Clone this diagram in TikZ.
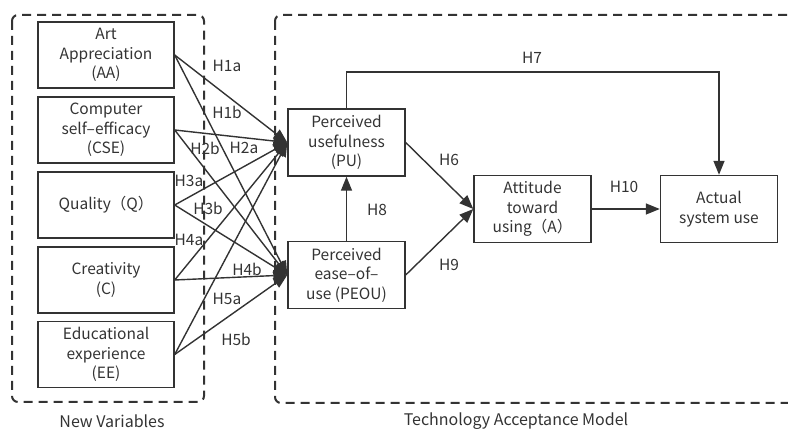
\documentclass[tikz,border=0pt]{standalone}
\usepackage{fontspec}
\setmainfont{Noto Sans CJK SC}
\usetikzlibrary{positioning,arrows.meta}

\begin{document}
\begin{tikzpicture}[x=1pt, y=-1pt, font=\fontsize{15.5}{19.5}\selectfont, color={black!80},
    var/.style={rectangle, draw, line width=1.4pt, align=center, minimum width=136pt, minimum height=66pt, inner sep=2pt},
    tam/.style={var, minimum width=117pt, minimum height=67pt},
    hyp/.style={inner sep=1pt},
    group/.style={draw, line width=2pt, dash pattern=on 9pt off 6pt, rounded corners=6pt},
    link/.style={line width=1.4pt, -{Triangle[length=14pt,width=11pt]}}]
    \useasboundingbox (0,0) rectangle (788,430);

    % dashed groups
    \draw[group] (12,15) rectangle (204,402);
    \draw[group] (275,15) rectangle (810,403);
    \node[font=\fontsize{16}{19}\selectfont] (newvar) at (112,421) {New Variables};
    \node[font=\fontsize{16}{19}\selectfont] (tamlabel) at (516,421) {Technology Acceptance Model};

    % new variables
    \node[var] (aa) at (106,55) {Art\\Appreciation\\(AA)};
    \node[var] (cse) at (106,130) {Computer\\self–efficacy\\(CSE)};
    \node[var] (q) at (106,205) {Quality（Q）};
    \node[var] (c) at (106,280) {Creativity\\(C)};
    \node[var] (ee) at (106,354.5) {Educational\\experience\\(EE)};

    % TAM
    \node[tam] (pu) at (346.5,142.5) {Perceived\\usefulness\\(PU)};
    \node[tam] (peou) at (346.5,275) {Perceived\\ease–of–\\use (PEOU)};
    \node[tam] (att) at (532.5,209) {Attitude\\toward\\using（A）};
    \node[tam] (asu) at (719,209) {Actual\\system use};

    \coordinate (top) at (532,72);

    \draw[link] (aa.east) -- (pu.west);
    \draw[link] (aa.east) -- (peou.west);
    \draw[link] (cse.east) -- (pu.west);
    \draw[link] (cse.east) -- (peou.west);
    \draw[link] (q.east) -- (pu.west);
    \draw[link] (q.east) -- (peou.west);
    \draw[link] (c.east) -- (pu.west);
    \draw[link] (c.east) -- (peou.west);
    \draw[link] (ee.east) -- (pu.west);
    \draw[link] (ee.east) -- (peou.west);

    \draw[link] (pu.east) -- (att.west);
    \draw[link] (peou.east) -- (att.west);
    \draw[link] (peou.north) -- (pu.south);
    \draw[link] (att.east) -- (asu.west);
    \draw[link] (pu.north) |- (top) -| (asu.north);

    % hypotheses
    \node[hyp] (h1a) at (227,66) {H1a};
    \node[hyp] (h1b) at (227,112) {H1b};
    \node[hyp] (h2b) at (205,148) {H2b};
    \node[hyp] (h2a) at (244,148) {H2a};
    \node[hyp] (h3a) at (189,181) {H3a};
    \node[hyp] (h3b) at (208,208) {H3b};
    \node[hyp] (h4a) at (189,240) {H4a};
    \node[hyp] (h4b) at (247,269) {H4b};
    \node[hyp] (h5a) at (227,299) {H5a};
    \node[hyp] (h5b) at (236,339) {H5b};
    \node[hyp] (h6) at (449,160) {H6};
    \node[hyp] (h7) at (532,58) {H7};
    \node[hyp] (h8) at (377,210) {H8};
    \node[hyp] (h9) at (449,265) {H9};
    \node[hyp] (h10) at (624,187) {H10};
\end{tikzpicture}
\end{document}
